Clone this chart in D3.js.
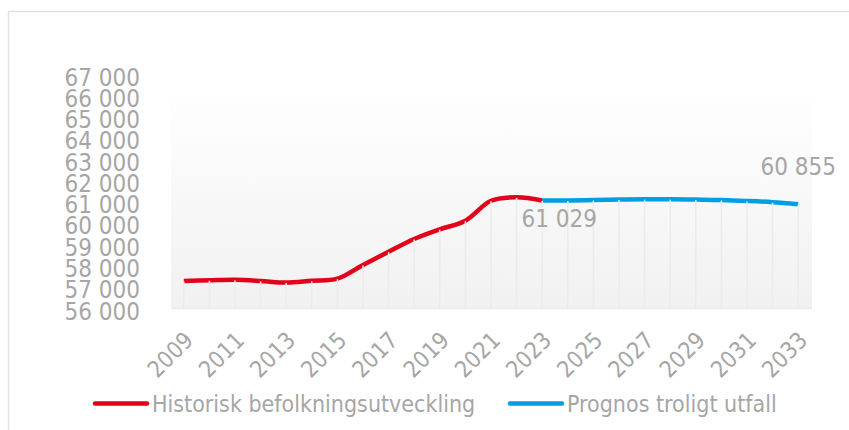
<!DOCTYPE html>
<html>
<head>
    <meta charset="UTF-8">
    <title>Befolkning</title>
    <style>
        body { margin: 0; background: #fff; }
        svg text {
            font-family: "DejaVu Sans Condensed", "DejaVu Sans", sans-serif;
            font-stretch: condensed;
            fill: #a6a6a6;
        }
    </style>
</head>
<body>
    <div id="app"></div>

    <script src="https://d3js.org/d3.v7.min.js"></script>
    <script>
        // values
        let histYears = d3.range(2009, 2024)
        let histValues = [57246, 57280, 57305, 57250, 57170, 57260, 57355, 58000, 58620,
            59220, 59675, 60080, 61020, 61180, 61029]
        let progYears = d3.range(2023, 2034)
        let progValues = [61029, 61030, 61050, 61075, 61090, 61090, 61075, 61055, 61010, 60950, 60855]
        let yTicks = d3.range(56000, 67001, 1000)
        let xTickYears = d3.range(2009, 2034, 2)
        let seriesNames = ['Historisk befolkningsutveckling', 'Prognos troligt utfall']
        let labelYears = [2023, 2033]

        let W = 849
        let H = 430
        let red = '#e2001a'
        let blue = '#009fe3'

        let fmt = d3.formatLocale({ decimal: ',', thousands: ' ', grouping: [3], currency: ['', ''] }).format(',')

        let svg = d3.select('#app').append('svg')
            .attr('width', W)
            .attr('height', H)

        // outer chart border
        svg.append('rect')
            .attr('x', 8.5).attr('y', 11.5)
            .attr('width', 900).attr('height', 500)
            .attr('fill', 'none')
            .attr('stroke', '#e2e2e2')
            .attr('stroke-width', 1.5)

        let allYears = d3.range(2009, 2034)
        let x = d3.scaleBand().domain(allYears).range([171, 811])
        let y = d3.scaleLinear().domain([56000, 67000]).range([307.5, 73.5])
        let cx = d => x(d) + x.bandwidth() / 2

        // plot area gradient
        let defs = svg.append('defs')
        let grad = defs.append('linearGradient')
            .attr('id', 'bg').attr('x1', 0).attr('y1', 0).attr('x2', 0).attr('y2', 1)
        grad.append('stop').attr('offset', '0%').attr('stop-color', '#ffffff')
        grad.append('stop').attr('offset', '100%').attr('stop-color', '#f1f1f1')

        svg.append('rect')
            .attr('x', 171).attr('y', 85)
            .attr('width', 641).attr('height', 223)
            .attr('fill', 'url(#bg)')
        svg.append('line')
            .attr('x1', 171).attr('x2', 812)
            .attr('y1', 308.5).attr('y2', 308.5)
            .attr('stroke', '#ececec').attr('stroke-width', 1.5)

        // y axis labels
        let yAxis = svg.append('g')
            .attr('transform', 'translate(140,0)')
            .call(d3.axisLeft(y).tickValues(yTicks).tickFormat(fmt).tickSize(0).tickPadding(0))
        yAxis.select('.domain').remove()
        yAxis.selectAll('text')
            .attr('font-size', 24)
            .attr('dy', '0.48em')
            .style('font-family', null)
            .attr('fill', null)
            .attr('font-family', null)

        // x axis labels, rotated
        svg.append('g').selectAll('text')
            .data(xTickYears).enter()
            .append('text')
            .attr('transform', d => 'translate(' + (cx(d) + 5) + ',336) rotate(-45)')
            .attr('text-anchor', 'end')
            .attr('dy', '0.35em')
            .attr('font-size', 23)
            .text(d => d)

        let line = d3.line()
            .x(d => cx(d[0]))
            .y(d => y(d[1]))
            .curve(d3.curveCatmullRom.alpha(0.5))

        let hist = histYears.map((d, i) => [d, histValues[i]])
        let prog = progYears.map((d, i) => [d, progValues[i]])

        svg.append('path')
            .datum(hist)
            .attr('d', line)
            .attr('fill', 'none')
            .attr('stroke', red)
            .attr('stroke-width', 4.5)
        svg.append('path')
            .datum(prog)
            .attr('d', line)
            .attr('fill', 'none')
            .attr('stroke', blue)
            .attr('stroke-width', 4.5)

        // drop lines
        let points = hist.concat(prog.slice(1))
        svg.append('g').selectAll('line')
            .data(points).enter()
            .append('line')
            .attr('x1', d => cx(d[0])).attr('x2', d => cx(d[0]))
            .attr('y1', d => y(d[1]) + 0.5).attr('y2', 308)
            .attr('stroke', '#ebebeb')
            .attr('stroke-width', 1.5)

        // data labels
        let labelOffset = { 2023: [17, 18], 2033: [0, -38] }
        svg.append('g').selectAll('text')
            .data(labelYears).enter()
            .append('text')
            .attr('x', d => cx(d) + labelOffset[d][0])
            .attr('y', d => y(points.find(p => p[0] === d)[1]) + labelOffset[d][1])
            .attr('text-anchor', 'middle')
            .attr('dy', '0.35em')
            .attr('font-size', 24)
            .text(d => fmt(points.find(p => p[0] === d)[1]))

        // legend
        let legend = svg.append('g').attr('transform', 'translate(0,403.5)')
        let lx = [95, 510]
        let items = legend.selectAll('g')
            .data(seriesNames).enter()
            .append('g')
            .attr('transform', (d, i) => 'translate(' + lx[i] + ',0)')
        items.append('line')
            .attr('x1', 0).attr('x2', 52)
            .attr('stroke', (d, i) => i === 0 ? red : blue)
            .attr('stroke-width', 4.5)
            .attr('stroke-linecap', 'round')
        items.append('text')
            .attr('x', 57)
            .attr('dy', '0.35em')
            .attr('font-size', 23)
            .text(d => d)
    </script>
</body>
</html>
